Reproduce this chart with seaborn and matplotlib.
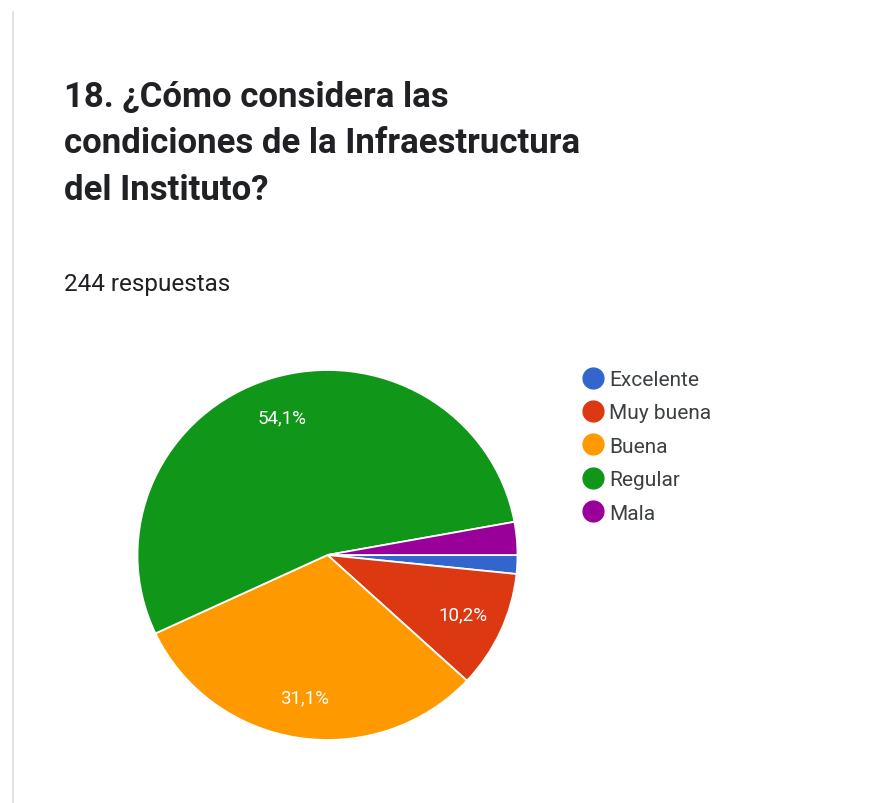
import matplotlib
matplotlib.use("Agg")
import matplotlib.pyplot as plt
from matplotlib.lines import Line2D
import seaborn as sns

sns.set_theme(style="white")
plt.rcParams['font.family'] = ['Roboto', 'DejaVu Sans']

categories = ["Excelente", "Muy buena", "Buena", "Regular", "Mala"]
counts = [4, 25, 76, 132, 7]
colors = ["#3366cc", "#dc3912", "#ff9900", "#109618", "#990099"]
total = sum(counts)

palette = sns.color_palette(colors)

W, H = 875, 804
fig = plt.figure(figsize=(W / 100, H / 100), dpi=100)
fig.patch.set_facecolor("white")

# pie axes: centre (327, 556) px, slightly wider than tall
cx, cy, rx, ry = 327.5, 556, 190, 185
ax = fig.add_axes([(cx - rx) / W, 1 - (cy + ry) / H, 2 * rx / W, 2 * ry / H])


def fmt(p):
    return f"{p:.1f}".replace(".", ",") + "%" if p > 5 else ""


wedges, texts, autotexts = ax.pie(
    counts, colors=palette, startangle=0, counterclock=False,
    autopct=fmt, pctdistance=0.78,
    wedgeprops=dict(edgecolor="white", linewidth=1.3),
    textprops=dict(color="white", fontsize=13.5),
)
ax.set_aspect("auto")
ax.set_xlim(-1.0, 1.0)
ax.set_ylim(-1.0, 1.0)
ax.axis("off")

text_col = "#202124"
title_lines = ["18. ¿Cómo considera las",
               "condiciones de la Infraestructura",
               "del Instituto?"]
for i, line in enumerate(title_lines):
    fig.text(64 / W, 1 - (97 + i * 46.5) / H, line, fontsize=25, fontweight="bold",
             color=text_col, va="center", ha="left")
fig.text(64 / W, 1 - 285 / H, f"{total} respuestas", fontsize=17.5,
         color=text_col, va="center", ha="left")

handles = [Line2D([0], [0], marker="o", linestyle="none", markersize=15,
                  markerfacecolor=c, markeredgecolor=c) for c in colors]
leg = fig.legend(handles, categories, loc="upper left",
                 bbox_to_anchor=(580 / W, 1 - 371 / H), frameon=False,
                 fontsize=15, labelspacing=0.69, handletextpad=0.2,
                 handlelength=1.2, borderpad=0, borderaxespad=0)
for t in leg.get_texts():
    t.set_color("#3c4043")

# faint panel edge on the left
fig.add_artist(Line2D([13 / W, 13 / W], [0, 1 - 13 / H], transform=fig.transFigure,
                      color="#dddddd", linewidth=1.2))

fig.savefig("out.png", dpi=100, facecolor="white")
